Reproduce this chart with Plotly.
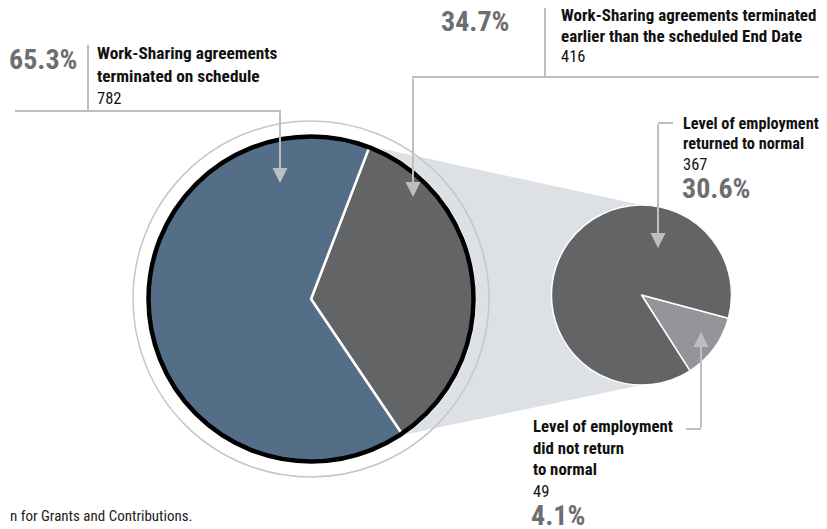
import math
import plotly.graph_objects as go

# Data
main_labels = ["Work-Sharing agreements terminated earlier than the scheduled End Date",
               "Work-Sharing agreements terminated on schedule"]
main_values = [416, 782]
main_pct = ["34.7%", "65.3%"]

sub_labels = ["Level of employment did not return to normal",
              "Level of employment returned to normal"]
sub_values = [49, 367]
sub_pct = ["4.1%", "30.6%"]

# the page body has an 8px margin, so the figure is drawn 8px in from the corner
OFF = 8
W, H = 827 - 2 * OFF, 529 - OFF
FONT = ("Roboto Condensed, Noto Sans Condensed, DejaVu Sans Condensed, "
        "Liberation Sans Narrow, Liberation Sans, Arial, sans-serif")
GREY_LINE = "#bdbec0"
PCT_COL = "#6d6e71"
PCT = 28


def px(x):
    return (x - OFF) / W


def py(y):
    return 1 - (y - OFF) / H


# geometry (screen pixels)
cx, cy, r = 311, 299, 164
scx, scy, sr = 641.5, 295, 90
rot_main, rot_sub = 21, 105

fig = go.Figure()

fig.add_trace(go.Pie(
    labels=main_labels, values=main_values, sort=False, direction="clockwise",
    rotation=rot_main, textinfo="none", hoverinfo="label+value",
    marker=dict(colors=["#636466", "#546e88"], line=dict(color="white", width=2.5)),
    domain=dict(x=[px(cx - r), px(cx + r)], y=[py(cy + r), py(cy - r)]),
))
fig.add_trace(go.Pie(
    labels=sub_labels, values=sub_values, sort=False, direction="clockwise",
    rotation=rot_sub, textinfo="none", hoverinfo="label+value",
    marker=dict(colors=["#939598", "#636466"], line=dict(color="white", width=1.5)),
    domain=dict(x=[px(scx - sr), px(scx + sr)], y=[py(scy + sr), py(scy - sr)]),
))

# connector from the "earlier" slice to the small pie
a0 = math.radians(rot_main)
a1 = math.radians(rot_main + 360 * main_values[0] / sum(main_values))
p_top = (cx + r * math.sin(a0), cy - r * math.cos(a0))
p_bot = (cx + r * math.sin(a1), cy - r * math.cos(a1))
path = (f"M {px(p_top[0])} {py(p_top[1])} L {px(scx)} {py(scy - sr)} "
        f"L {px(scx)} {py(scy + sr)} L {px(p_bot[0])} {py(p_bot[1])} "
        f"L {px(cx)} {py(cy)} Z")

shapes = [
    dict(type="path", path=path, xref="paper", yref="paper", layer="below",
         fillcolor="#dde1e6", line=dict(width=0)),
    dict(type="circle", xref="paper", yref="paper", layer="below",
         x0=px(cx - 178), x1=px(cx + 178), y0=py(cy + 178), y1=py(cy - 178),
         line=dict(color="#c6c6c6", width=1.5)),
    dict(type="circle", xref="paper", yref="paper", layer="above",
         x0=px(cx - 162.5), x1=px(cx + 162.5), y0=py(cy + 162.5), y1=py(cy - 162.5),
         line=dict(color="black", width=4.5)),
]


def seg(x0, y0, x1, y1):
    return dict(type="line", xref="paper", yref="paper", layer="above",
                x0=px(x0), y0=py(y0), x1=px(x1), y1=py(y1),
                line=dict(color=GREY_LINE, width=2))


shapes += [
    seg(88, 45, 88, 110), seg(15, 111, 281, 111),
    seg(545, 8, 545, 76), seg(412, 77, 819, 77),
    seg(673, 123, 658, 123),
    seg(686, 429, 701, 429),
]

ann = []


def arrow(x, y_tip, y_tail):
    ann.append(dict(x=px(x), y=py(y_tip), xref="paper", yref="paper", text="",
                    showarrow=True, ax=0, ay=y_tail - y_tip, arrowhead=2,
                    arrowsize=1.5, arrowwidth=2, arrowcolor=GREY_LINE, standoff=0))


arrow(280, 183, 111)
arrow(413, 197, 77)
arrow(658, 248, 123)
arrow(701, 332, 429)


def text(x, y, s, size, color, xanchor="left", bold=True):
    ann.append(dict(x=px(x), y=py(y), xref="paper", yref="paper",
                    text=f"<b>{s}</b>" if bold else s,
                    showarrow=False, xanchor=xanchor, yanchor="middle", align="left",
                    font=dict(family=FONT, size=size, color=color)))


def block(x, ys, lines, value, size):
    for y, s in zip(ys[:-1], lines):
        text(x, y, s, size, "#111")
    text(x, ys[-1], str(value), 16.5, "#111", bold=False)


text(79, 59, main_pct[1], PCT, PCT_COL, "right")
block(95, [53, 76, 99], ["Work-Sharing agreements", "terminated on schedule"],
      main_values[1], 17.3)

text(511, 21, main_pct[0], PCT, PCT_COL, "right")
block(559, [15, 36, 57], ["Work-Sharing agreements terminated",
                          "earlier than the scheduled End Date"], main_values[0], 17)

block(681, [123, 144, 165], ["Level of employment", "returned to normal"],
      sub_values[1], 16.3)
text(680, 188, sub_pct[1], PCT, PCT_COL)

block(531, [426, 447.5, 469, 491], ["Level of employment", "did not return", "to normal"],
      sub_values[0], 16.8)
text(529, 515, sub_pct[0], PCT, PCT_COL)

text(8, 516, "n for Grants and Contributions.", 15, "#222", bold=False)

fig.update_layout(
    width=W, height=H, margin=dict(l=0, r=0, t=0, b=0),
    paper_bgcolor="white", plot_bgcolor="white", showlegend=False,
    shapes=shapes, annotations=ann,
)

fig.write_html("out.html")
